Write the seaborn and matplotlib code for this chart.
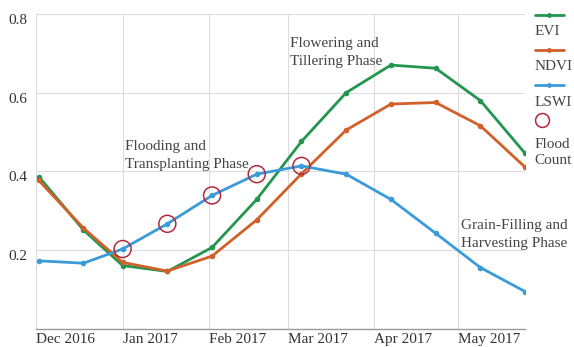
import numpy as np
import pandas as pd
import matplotlib
matplotlib.use("Agg")
import matplotlib.pyplot as plt
from matplotlib.lines import Line2D
from matplotlib.legend_handler import HandlerLine2D
from matplotlib.offsetbox import VPacker
import seaborn as sns

# 16-day composite dates
dates = pd.to_datetime([
    "2016-12-02", "2016-12-18", "2017-01-01", "2017-01-17",
    "2017-02-02", "2017-02-18", "2017-03-06", "2017-03-22",
    "2017-04-07", "2017-04-23", "2017-05-09", "2017-05-25",
])
evi = [0.387, 0.251, 0.161, 0.146, 0.207, 0.329, 0.476, 0.600, 0.670, 0.662, 0.580, 0.446]
ndvi = [0.377, 0.256, 0.169, 0.147, 0.185, 0.277, 0.394, 0.505, 0.571, 0.575, 0.516, 0.411]
lswi = [0.173, 0.167, 0.203, 0.267, 0.339, 0.393, 0.414, 0.393, 0.329, 0.243, 0.156, 0.095]
# flood detected on these composites (marked on the LSWI curve)
flood_idx = [2, 3, 4, 5, 6]

month_ticks = pd.to_datetime(["2016-12-01", "2017-01-01", "2017-02-01",
                              "2017-03-01", "2017-04-01", "2017-05-01"])
month_labels = ["Dec 2016", "Jan 2017", "Feb 2017", "Mar 2017", "Apr 2017", "May 2017"]

colors = {"EVI": "#24954e", "NDVI": "#d2602b", "LSWI": "#3a9bd8"}
flood_color = "#b12a3a"

df = pd.DataFrame({"date": dates, "EVI": evi, "NDVI": ndvi, "LSWI": lswi})
long_df = df.melt(id_vars="date", var_name="index", value_name="value")
flood_df = df.iloc[flood_idx]

sns.set_theme(style="whitegrid")
plt.rcParams["font.family"] = ["Liberation Serif", "DejaVu Serif"]

fig = plt.figure(figsize=(5.74, 3.47), dpi=100)
ax = fig.add_axes([0.0627, 0.052, 0.852, 0.908])

for name in ["EVI", "NDVI", "LSWI"]:
    sub = long_df[long_df["index"] == name]
    sns.lineplot(data=sub, x="date", y="value", ax=ax, color=colors[name],
                 lw=2, marker="o", markersize=4, markeredgewidth=0, zorder=3)

sns.scatterplot(data=flood_df, x="date", y="LSWI", ax=ax, s=150,
                facecolors="none", edgecolor=flood_color, linewidth=1.1, zorder=4)

ax.set_xlim(month_ticks[0], dates[-1])
ax.set_ylim(0, 0.8)
ax.set_xticks(month_ticks)
ax.set_xticklabels(month_labels, ha="left")
ax.set_yticks([0.2, 0.4, 0.6, 0.8])
ax.set_yticklabels(["0.2", "0.4", "0.6", "0.8"], va="top")
ax.tick_params(axis="both", length=0, labelsize=11, colors="#333333")
ax.tick_params(axis="x", pad=3)
ax.tick_params(axis="y", pad=6)
ax.set_xlabel("")
ax.set_ylabel("")
ax.grid(True, color="#dcdcdc", lw=0.8)
for s in ["top", "right", "left"]:
    ax.spines[s].set_visible(False)
ax.spines["bottom"].set_color("#999999")
ax.spines["bottom"].set_linewidth(1)
ax.set_facecolor("white")

txt = dict(fontsize=11, color="#444444", ha="left", va="center", linespacing=1.5)
ax.text(pd.Timestamp("2017-01-02"), 0.44, "Flooding and\nTransplanting Phase", **txt)
ax.text(pd.Timestamp("2017-03-02"), 0.703, "Flowering and\nTillering Phase", **txt)
ax.text(pd.Timestamp("2017-05-02"), 0.24, "Grain-Filling and\nHarvesting Phase", **txt)


class LeftMarker(HandlerLine2D):
    # marker drawn at the left end of the handle box
    def create_artists(self, legend, orig_handle, xdescent, ydescent,
                       width, height, fontsize, trans):
        return super().create_artists(legend, orig_handle, xdescent, ydescent,
                                      fontsize * 0.95, height, fontsize, trans)


handles = [Line2D([], [], color=colors[n], lw=2, marker="o", markersize=3.5,
                  markeredgewidth=0) for n in ["EVI", "NDVI", "LSWI"]]
flood_handle = Line2D([], [], ls="none", marker="o", markersize=10,
                      markerfacecolor="none", markeredgecolor=flood_color,
                      markeredgewidth=1.1)
handles.append(flood_handle)
labels = ["EVI", "NDVI", "LSWI", "Flood\nCount"]
leg = ax.legend(handles, labels, loc="upper left", bbox_to_anchor=(1.02, 1.015),
                frameon=False, handlelength=1.9, labelspacing=0.38,
                borderaxespad=0, borderpad=0, fontsize=11,
                handler_map={flood_handle: LeftMarker()})
for t in leg.get_texts():
    t.set_color("#444444")
    t.set_linespacing(1.35)

# put each legend handle above its label
col = leg._legend_handle_box.get_children()[0]
new_rows = []
for i, row in enumerate(col.get_children()):
    h, t = row.get_children()
    vp = VPacker(children=[h, t], align="left", pad=0, sep=9 if i == 3 else 4)
    vp.set_figure(fig)
    new_rows.append(vp)
col._children = new_rows

fig.patch.set_facecolor("white")
fig.savefig("out.png", dpi=100)
